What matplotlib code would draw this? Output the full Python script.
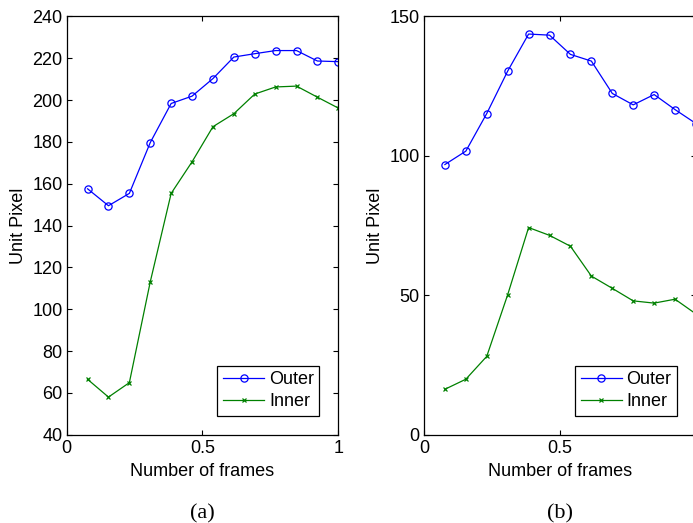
import numpy as np
import matplotlib
matplotlib.use("Agg")
import matplotlib.pyplot as plt

# frame positions (normalised), 13 samples
frames = np.arange(1, 14) / 13.0

# (a)
outer_a = [157.6, 149.5, 155.4, 179.7, 198.4, 201.9, 210.3, 220.6, 222.2, 223.7, 223.7, 218.7, 218.4]
inner_a = [66.5, 58.0, 64.9, 113.1, 155.4, 170.5, 187.3, 193.5, 202.9, 206.3, 206.7, 201.4, 196.2]

# (b)
outer_b = [96.9, 101.7, 115.2, 130.4, 143.7, 143.3, 136.4, 134.0, 122.4, 118.3, 122.0, 116.6, 111.6]
inner_b = [16.3, 19.9, 28.1, 50.2, 74.3, 71.5, 67.6, 56.9, 52.5, 48.0, 47.2, 48.6, 43.3]

plt.rcParams["font.family"] = "Liberation Sans"
FS = 13

fig = plt.figure(figsize=(6.93, 5.23), dpi=100)


def draw_panel(ax, outer, inner, ylim, yticks, xlabels, tag):
    ax.plot(frames, outer, color="#0000ff", marker="o", markersize=5.2,
            markerfacecolor="none", markeredgewidth=0.9, linewidth=0.9, label="Outer")
    ax.plot(frames, inner, color="#008000", marker="x", markersize=3,
            markeredgewidth=0.9, linewidth=0.9, label="Inner")
    ax.set_xlim(0, 1)
    ax.set_ylim(*ylim)
    ax.set_xticks([0, 0.5, 1])
    ax.set_xticklabels(xlabels)
    ax.set_yticks(yticks)
    ax.tick_params(direction="in", top=True, right=True, length=3.5, width=0.8,
                   labelsize=FS, pad=3)
    ax.tick_params(axis="x", pad=4)
    for sp in ax.spines.values():
        sp.set_linewidth(0.9)
    ax.set_xlabel("Number of frames", fontsize=FS, labelpad=4)
    ax.set_ylabel("Unit Pixel", fontsize=FS, labelpad=4)
    leg = ax.legend(loc="lower right", fancybox=False, framealpha=1,
                    edgecolor="black", fontsize=FS, handlelength=2.3,
                    handletextpad=0.25, borderpad=0.3, labelspacing=0.3,
                    borderaxespad=1.05)
    leg.get_frame().set_linewidth(0.9)
    ax.text(0.5, -0.19, tag, transform=ax.transAxes, ha="center", va="center",
            fontsize=16, family="Liberation Serif")


ax1 = fig.add_axes([0.0962, 0.1688, 0.392, 0.7997])
draw_panel(ax1, outer_a, inner_a, (40, 240), np.arange(40, 241, 20), ["0", "0.5", "1"], "(a)")

ax2 = fig.add_axes([0.6118, 0.1688, 0.3925, 0.7997])
draw_panel(ax2, outer_b, inner_b, (0, 150), [0, 50, 100, 150], ["0", "0.5", ""], "(b)")

fig.savefig("out.png", dpi=100)
